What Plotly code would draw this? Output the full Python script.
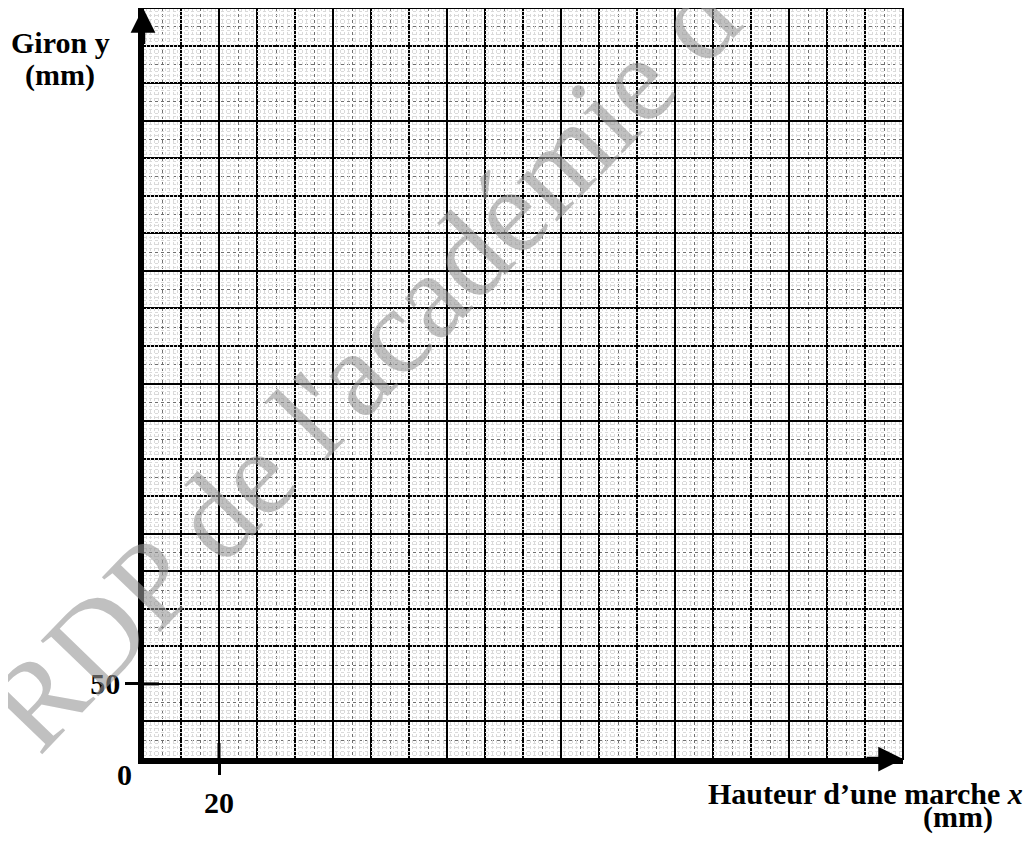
import plotly.graph_objects as go

# ---- chart content -------------------------------------------------------
X_MAX = 200            # Hauteur d'une marche x (mm)
Y_MAX = 500            # Giron y (mm)
X_MAJOR, X_MID, X_MINOR = 10, 5, 1
Y_MAJOR, Y_MID, Y_MINOR = 25, 12.5, 2.5
X_TICKS = [20]
X_TICK_TEXT = ["20"]
Y_TICKS = [50]
Y_TICK_TEXT = ["50"]
ORIGIN_LABEL = "0"
X_TITLE = "Hauteur d’une marche <i>x</i>"
X_UNIT = "(mm)"
Y_TITLE = "Giron y"
Y_UNIT = "(mm)"
WATERMARK = "RDP de l'académie d"

SERIF = "Liberation Serif, Times New Roman, serif"

# ---- grid levels ---------------------------------------------------------
def levels(maximum, step):
    n = int(round(maximum / step))
    return [round(i * step, 6) for i in range(n + 1)]

x_major = levels(X_MAX, X_MAJOR)
x_mid = [v for v in levels(X_MAX, X_MID) if v not in x_major]
x_minor = [v for v in levels(X_MAX, X_MINOR) if v not in x_major and v not in x_mid]
y_major = levels(Y_MAX, Y_MAJOR)
y_mid = [v for v in levels(Y_MAX, Y_MID) if v not in y_major]
y_minor = [v for v in levels(Y_MAX, Y_MINOR) if v not in y_major and v not in y_mid]

fig = go.Figure()
for i in ("", "2", "3"):
    fig.add_trace(go.Scatter(x=[], y=[], xaxis="x" + i, yaxis="y" + i,
                             showlegend=False, hoverinfo="skip"))

tickfont = dict(family=SERIF, size=30, color="black", weight="bold")
grid_axis = dict(ticks="", showticklabels=False, zeroline=False, showline=False,
                 fixedrange=True)

fig.update_layout(
    width=1024, height=841,
    margin=dict(l=135, r=129, t=0, b=90, autoexpand=False),
    paper_bgcolor="white", plot_bgcolor="white",
    showlegend=False,
    xaxis=dict(
        range=[0, X_MAX], tickvals=X_TICKS, ticktext=X_TICK_TEXT,
        ticks="outside", ticklen=11, tickwidth=3, tickcolor="black",
        showgrid=False, zeroline=False, showline=True, linecolor="black",
        linewidth=4.5, tickfont=tickfont, ticklabelstandoff=2, fixedrange=True,
    ),
    yaxis=dict(
        range=[0, Y_MAX], tickvals=Y_TICKS, ticktext=Y_TICK_TEXT,
        ticks="outside", ticklen=13, tickwidth=3, tickcolor="black",
        showgrid=False, zeroline=False, showline=True, linecolor="black",
        linewidth=4.5, tickfont=tickfont, ticklabelstandoff=-1, fixedrange=True,
    ),
    # major + half-centimetre grid
    xaxis2=dict(range=[0, X_MAX], overlaying="x", tickvals=x_major,
                showgrid=True, gridcolor="black", gridwidth=2,
                minor=dict(tickvals=x_mid, showgrid=True, gridcolor="#707070",
                           griddash="dot", gridwidth=1),
                **grid_axis),
    yaxis2=dict(range=[0, Y_MAX], overlaying="y", tickvals=y_major,
                showgrid=True, gridcolor="black", gridwidth=2,
                minor=dict(tickvals=y_mid, showgrid=True, gridcolor="#707070",
                           griddash="dot", gridwidth=1),
                **grid_axis),
    # millimetre grid
    xaxis3=dict(range=[0, X_MAX], overlaying="x", tickvals=x_minor,
                showgrid=True, gridcolor="#dadada", griddash="dot", gridwidth=1,
                **grid_axis),
    yaxis3=dict(range=[0, Y_MAX], overlaying="y", tickvals=y_minor,
                showgrid=True, gridcolor="#dadada", griddash="dot", gridwidth=1,
                **grid_axis),
)

# frame (top / right)
fig.add_shape(type="rect", xref="paper", yref="paper", x0=0, x1=1, y0=0, y1=1,
              line=dict(color="black", width=2), layer="above")

# inner part of the tick marks (crossing the axes)
for v in X_TICKS:
    fig.add_shape(type="line", xref="x", yref="y", ysizemode="pixel", yanchor=0,
                  x0=v, x1=v, y0=0, y1=16, line=dict(color="black", width=3))
for v in Y_TICKS:
    fig.add_shape(type="line", xref="x", yref="y", xsizemode="pixel", xanchor=0,
                  x0=0, x1=16, y0=v, y1=v, line=dict(color="black", width=3))

# arrow heads on the axes
fig.add_annotation(x=0, y=Y_MAX, ax=0, ay=Y_MAX * 0.95, xref="x", yref="y",
                   axref="x", ayref="y", text="", showarrow=True, arrowhead=2,
                   arrowwidth=4.5, arrowsize=1.1, arrowcolor="black")
fig.add_annotation(x=X_MAX, y=0, ax=X_MAX * 0.95, ay=0, xref="x", yref="y",
                   axref="x", ayref="y", text="", showarrow=True, arrowhead=2,
                   arrowwidth=4.5, arrowsize=1.1, arrowcolor="black")

# watermark
fig.add_annotation(x=0.289, y=0.528, xref="paper", yref="paper", text=WATERMARK,
                   showarrow=False, textangle=-46, xanchor="center", yanchor="middle",
                   font=dict(family=SERIF, size=122, color="rgba(150,150,150,0.6)"))

lab = dict(family=SERIF, size=30, color="black", weight="bold")
fig.add_annotation(x=-0.108, y=0.9534, xref="paper", yref="paper", text=Y_TITLE,
                   showarrow=False, font=lab, xanchor="center", yanchor="middle")
fig.add_annotation(x=-0.109, y=0.9108, xref="paper", yref="paper", text=Y_UNIT,
                   showarrow=False, font=lab, xanchor="center", yanchor="middle")
fig.add_annotation(x=0.951, y=-0.0453, xref="paper", yref="paper", text=X_TITLE,
                   showarrow=False, font=lab, xanchor="center", yanchor="middle")
fig.add_annotation(x=1.072, y=-0.0772, xref="paper", yref="paper", text=X_UNIT,
                   showarrow=False, font=lab, xanchor="center", yanchor="middle")
fig.add_annotation(x=-0.0237, y=-0.0200, xref="paper", yref="paper", text=ORIGIN_LABEL,
                   showarrow=False, font=lab, xanchor="center", yanchor="middle")

fig.write_html("out.html")
